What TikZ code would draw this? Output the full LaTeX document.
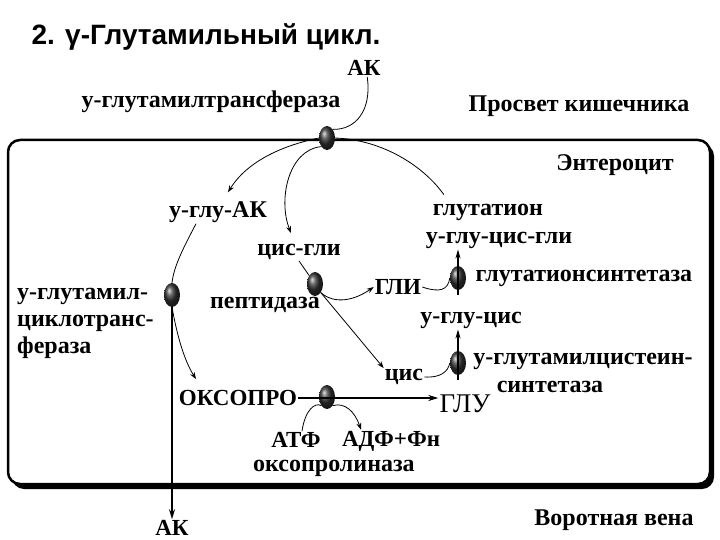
\documentclass[tikz,border=0pt]{standalone}
\usepackage{fontspec}
\setmainfont{Liberation Serif}
\newfontfamily\titlefont{Liberation Sans}
\usetikzlibrary{shapes.geometric, arrows.meta, positioning}
\tikzset{
  lbl/.style={font=\bfseries\fontsize{24}{26}\selectfont, inner sep=1pt},
  big/.style={font=\bfseries\fontsize{23}{23}\selectfont, inner sep=1pt},
  enzyme/.style={ellipse, minimum width=16pt, minimum height=24pt,
    inner sep=0pt, shading=ball, ball color=black!80},
  link/.style={line width=0.8pt},
  flow/.style={-{Stealth[length=7pt,width=5pt]}, line width=0.8pt},
  thickflow/.style={-{Stealth[length=10pt,width=6pt]}, line width=2pt},
  vert/.style={-{Stealth[length=9pt,width=5pt]}, line width=2.2pt}
}
\begin{document}
\begin{tikzpicture}[x=1pt, y=-1pt]
  \useasboundingbox (0,0) rectangle (720,540);
  % cell with shadow
  \fill[black, rounded corners=12pt] (12,144) rectangle (714,489);
  \draw[fill=white, line width=2.5pt, rounded corners=12pt] (8,140) rectangle (710,484);

  \node[font=\titlefont\bfseries\fontsize{28}{28}\selectfont, anchor=west]
    (title) at (28,37) {2. γ-Глутамильный цикл.};

  % labels
  \node[big] (ak1) at (364,68) {АК};
  \node[lbl] (gtname) at (211,102) {у-глутамилтрансфераза};
  \node[lbl] (lumen) at (579,106) {Просвет кишечника};
  \node[lbl] (cell) at (615,165) {Энтероцит};
  \node[lbl] (gluak) at (218,212) {у-глу-АК};
  \node[lbl] (gsh) at (488,212) {глутатион};
  \node[lbl] (gcg) at (499,240) {у-глу-цис-гли};
  \node[lbl] (cysgly) at (299,252) {цис-гли};
  \node[lbl, font=\bfseries\fontsize{24}{27}\selectfont, align=left, anchor=west]
    (cycname) at (16,323) {у-глутамил-\\циклотранс-\\фераза};
  \node[big] (gly) at (398,287) {ГЛИ};
  \node[lbl] (gsname) at (584,278) {глутатионсинтетаза};
  \node[lbl] (pepname) at (265,305) {пептидаза};
  \node[lbl] (gc) at (471,320) {у-глу-цис};
  \node[lbl] (gcsname) at (583,361) {у-глутамилцистеин-};
  \node[lbl] (gcsname2) at (550,387) {синтетаза};
  \node[lbl] (cys) at (404,377) {цис};
  \node[big] (oxo) at (238,398) {ОКСОПРО};
  \node[font=\fontsize{27}{27}\selectfont, inner sep=1pt] (glu) at (465,404) {ГЛУ};
  \node[big] (atp) at (296,440) {АТФ};
  \node[big] (adp) at (391,441) {АДФ+Фн};
  \node[lbl] (oxoname) at (334,468) {оксопролиназа};
  \node[big] (ak2) at (172,528) {АК};
  \node[lbl] (portal) at (614,520) {Воротная вена};

  % enzymes
  \node[enzyme] (e1) at (327,138) {};
  \node[enzyme] (e2) at (172,295) {};
  \node[enzyme] (e3) at (315,284) {};
  \node[enzyme] (e4) at (458,278) {};
  \node[enzyme] (e5) at (458,363) {};
  \node[enzyme] (e6) at (327,397) {};

  % connectors
  \draw[link] (ak1.290) .. controls (372,110) and (356,130) .. (e1.north east);
  \draw[flow] (e1.west) .. controls (285,145) and (248,160) .. ([xshift=10pt,yshift=8pt]gluak.north);
  \draw[flow] (e1.south west) .. controls (288,150) and (278,200) .. ([xshift=-8pt,yshift=10pt]cysgly.north);
  \draw[link] (e1.east) .. controls (385,140) and (425,168) .. ([xshift=12pt,yshift=8pt]gsh.north west);
  \draw[link] ([xshift=-22pt]gluak.south) .. controls (185,245) and (174,265) .. (e2.north);
  \draw[flow] (e2.south) .. controls (177,335) and (184,360) .. ([xshift=-42pt,yshift=10pt]oxo.north);
  \draw[thickflow] (e2.south) -- (ak2.north);
  \draw[link] (cysgly.south) -- (e3);
  \draw[flow] (e3.south east) .. controls (335,305) and (355,300) .. (gly.west);
  \draw[flow] (e3.south east) -- (cys.north west);
  \draw[link] (gly.east) .. controls (440,293) and (448,290) .. (e4.west);
  \draw[vert] ([yshift=-5pt]e4.south) -- (e4.center |- gcg.south);
  \draw[link] (cys.east) .. controls (440,378) and (448,372) .. (e5.west);
  \draw[vert] ([yshift=-5pt]e5.south) -- (e5.center |- gc.south);
  \draw[thickflow] (oxo.east) -- (oxo.east -| glu.west);
  \draw[link] ([xshift=6pt]atp.north) .. controls (305,410) and (315,402) .. (e6.south west);
  \draw[flow] (e6.south east) .. controls (345,402) and (355,412) .. ([xshift=-30pt]adp.north);
\end{tikzpicture}
\end{document}
